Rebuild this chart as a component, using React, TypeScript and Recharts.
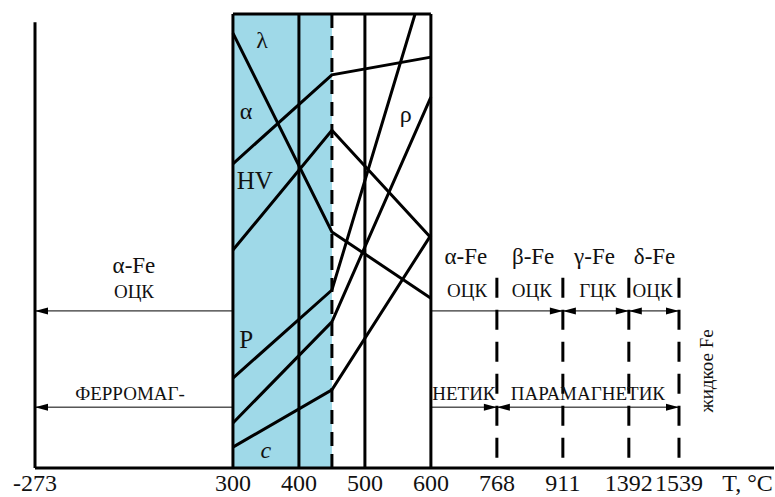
import React from 'react';
import {
  ComposedChart, Line, Scatter, XAxis, YAxis, ReferenceLine, ReferenceArea,
} from 'recharts';

// temperature axis is schematic: each tick gets its own slot
const tempTicks = [-273, 300, 400, 500, 600, 768, 911, 1392, 1539];
const tempSlots = [0, 3, 4, 5, 6, 7, 8, 9, 9.76];
const unitSlot = 10.8;
const unitLabel = 'T, °C';

// property curves (relative values, 0..100)
const curveTemps = [300, 450, 600];
const alphaVals = [67, 86.6, 90.5];
const lambdaVals = [95.8, 52, 37.4];
const hvVals = [48, 74.4, 50.7];
const pTemps = [300, 450, 576];
const pVals = [19.8, 39.2, 100];
const rhoVals = [9.9, 32.2, 81.7];
const cVals = [4.6, 17.2, 51.3];

// phase transition temperatures
const transitions = [768, 911, 1392, 1539];
const transitionTop = 41.9;

// arrow rows: [from, to, headAtStart, headAtEnd]
const latticeRowY = 34.6;
const magnetRowY = 13.4;
const latticeArrows: [number, number, boolean, boolean][] = [
  [300, -273, false, true],
  [600, 911, false, true],
  [911, 1392, true, true],
  [1392, 1539, true, true],
];
const magnetArrows: [number, number, boolean, boolean][] = [
  [300, -273, false, true],
  [600, 768, false, true],
  [768, 1539, true, true],
];

const slot = (t: number) => {
  for (let i = 0; i < tempTicks.length - 1; i++) {
    if (t <= tempTicks[i + 1]) {
      const f = (t - tempTicks[i]) / (tempTicks[i + 1] - tempTicks[i]);
      return tempSlots[i] + f * (tempSlots[i + 1] - tempSlots[i]);
    }
  }
  return tempSlots[tempSlots.length - 1];
};

const toPoints = (temps: number[], vals: number[]) =>
  temps.map((t, i) => ({ x: slot(t), y: vals[i] }));

const curves = [
  toPoints(curveTemps, alphaVals),
  toPoints(curveTemps, lambdaVals),
  toPoints(curveTemps, hvVals),
  toPoints(pTemps, pVals),
  toPoints(curveTemps, rhoVals),
  toPoints(curveTemps, cVals),
];

const notes = [
  { x: 3.44, y: 94.3, text: 'λ', size: 24 },
  { x: 3.2, y: 78.7, text: 'α', size: 24 },
  { x: 3.33, y: 63.4, text: 'HV', size: 25 },
  { x: 3.2, y: 28.2, text: 'P', size: 25 },
  { x: 3.5, y: 4, text: 'c', size: 24, italic: true },
  { x: 5.62, y: 78, text: 'ρ', size: 24 },
  { x: 1.5, y: 44.7, text: 'α-Fe', size: 23 },
  { x: 1.5, y: 38.8, text: 'ОЦК', size: 19 },
  { x: 1.44, y: 16.5, text: 'ФЕРРОМАГ-', size: 19 },
  { x: 6.53, y: 46.5, text: 'α-Fe', size: 23 },
  { x: 7.55, y: 46.5, text: 'β-Fe', size: 23 },
  { x: 8.48, y: 46.5, text: 'γ-Fe', size: 23 },
  { x: 9.39, y: 46.5, text: 'δ-Fe', size: 23 },
  { x: 6.55, y: 39.2, text: 'ОЦК', size: 19 },
  { x: 7.53, y: 39.2, text: 'ОЦК', size: 19 },
  { x: 8.53, y: 39.2, text: 'ГЦК', size: 19 },
  { x: 9.36, y: 39.2, text: 'ОЦК', size: 19 },
  { x: 6.5, y: 16.5, text: 'НЕТИК', size: 19 },
  { x: 8.38, y: 16.5, text: 'ПАРАМАГНЕТИК', size: 19 },
  { x: 10.18, y: 21.4, text: 'жидкое Fe', size: 19, rotate: true },
];

const FONT = 'Liberation Serif, Times New Roman, serif';

const arrowData = (rows: [number, number, boolean, boolean][], y: number) =>
  rows.map(([a, b, hs, he]) => {
    const xa = slot(a), xb = slot(b);
    const dirA = xa < xb ? 'left' : 'right';
    const dirB = xb > xa ? 'right' : 'left';
    return [
      { x: xa, y, head: hs ? dirA : null },
      { x: xb, y, head: he ? dirB : null },
    ];
  });

const arrows = [...arrowData(latticeArrows, latticeRowY), ...arrowData(magnetArrows, magnetRowY)];

const ArrowHead = (props: any) => {
  const { cx, cy, payload, index } = props;
  if (!payload || !payload.head) return <g key={`n${index}`} />;
  const d = payload.head === 'right' ? -1 : 1;
  const pts = `${cx},${cy} ${cx + d * 13},${cy - 3.5} ${cx + d * 13},${cy + 3.5}`;
  return <polygon key={`h${index}`} points={pts} fill="#000" />;
};

const NoteShape = (props: any) => {
  const { cx, cy, payload } = props;
  return (
    <text
      x={cx}
      y={cy}
      textAnchor="middle"
      dominantBaseline="central"
      fill="#111"
      style={{
        fontFamily: FONT,
        fontSize: payload.size,
        fontStyle: payload.italic ? 'italic' : 'normal',
      }}
      transform={payload.rotate ? `rotate(-90 ${cx} ${cy})` : undefined}
    >
      {payload.text}
    </text>
  );
};

const axisTicks = [...tempSlots, unitSlot];
const tickText = (v: number) => {
  const i = tempSlots.indexOf(v);
  return i >= 0 ? String(tempTicks[i]) : unitLabel;
};

export default function App() {
  return (
    <div
      style={{
        position: 'absolute', left: 0, top: 0, width: 775, height: 497,
        background: '#fff', fontFamily: FONT,
      }}
    >
      <ComposedChart
        width={775}
        height={497}
        margin={{ top: 14, right: 1, bottom: 0, left: 35 }}
        style={{ fontFamily: FONT }}
      >
        <XAxis
          type="number"
          dataKey="x"
          domain={[0, 11.2]}
          ticks={axisTicks}
          interval={0}
          tickFormatter={tickText}
          tickLine={false}
          tickMargin={0}
          height={29}
          allowDataOverflow
          axisLine={{ stroke: '#000', strokeWidth: 3 }}
          tick={{ fill: '#111', fontSize: 24, fontFamily: FONT }}
        />
        <YAxis type="number" domain={[0, 100]} hide allowDataOverflow />
        <ReferenceArea x1={slot(300)} x2={slot(450)} y1={0} y2={100} fill="#9fd9e8" fillOpacity={1} stroke="none" />
        <ReferenceLine segment={[{ x: 0, y: 0 }, { x: 0, y: 98.2 }]} stroke="#000" strokeWidth={3} />
        <ReferenceLine segment={[{ x: slot(300), y: 100 }, { x: slot(600), y: 100 }]} stroke="#000" strokeWidth={3} />
        {[300, 400, 500, 600].map((t) => (
          <ReferenceLine key={t} x={slot(t)} stroke="#000" strokeWidth={3} />
        ))}
        <ReferenceLine
          segment={[{ x: slot(450), y: 100 }, { x: slot(450), y: 0 }]}
          stroke="#000"
          strokeWidth={3}
          strokeDasharray="14 8"
        />
        {transitions.map((t) => (
          <ReferenceLine
            key={t}
            segment={[{ x: slot(t), y: transitionTop }, { x: slot(t), y: 0 }]}
            stroke="#000"
            strokeWidth={3}
            strokeDasharray="20 12"
          />
        ))}
        {curves.map((pts, i) => (
          <Line
            key={`c${i}`}
            data={pts}
            dataKey="y"
            type="linear"
            stroke="#000"
            strokeWidth={3}
            dot={false}
            activeDot={false}
            isAnimationActive={false}
          />
        ))}
        {arrows.map((pts, i) => (
          <Line
            key={`a${i}`}
            data={pts}
            dataKey="y"
            type="linear"
            stroke="#000"
            strokeWidth={1}
            dot={ArrowHead}
            activeDot={false}
            isAnimationActive={false}
          />
        ))}
        <Scatter data={notes} dataKey="y" shape={NoteShape} isAnimationActive={false} />
      </ComposedChart>
    </div>
  );
}
